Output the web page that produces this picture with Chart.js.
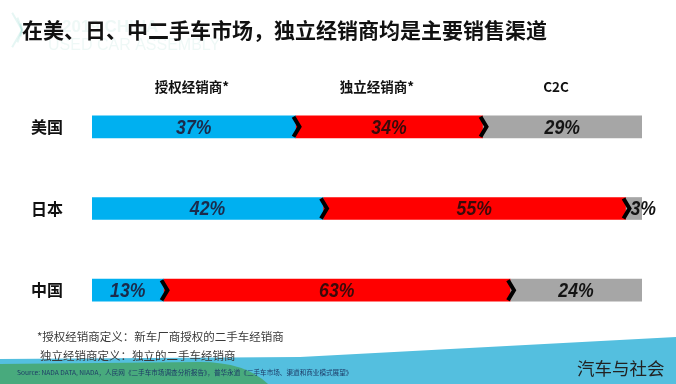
<!DOCTYPE html>
<html>
<head>
<meta charset="utf-8">
<script src="https://cdn.jsdelivr.net/npm/chart.js@4/dist/chart.umd.min.js"></script>
<style>
  html, body { margin: 0; padding: 0; background: #ffffff; }
  #wrap { position: relative; width: 676px; height: 384px; overflow: hidden; }
  canvas { position: absolute; left: 0; top: 0; }
  .txt { position: absolute; white-space: nowrap; font-family: "Noto Sans CJK SC", "Noto Sans", sans-serif; line-height: 1; }
  #title { left: 22px; top: 19px; font-size: 21px; font-weight: 700; color: #111; }
  #fn1 { left: 37px; top: 331px; font-size: 11.5px; color: #3a3a3a; }
  #fn2 { left: 40px; top: 350px; font-size: 11.5px; color: #3a3a3a; }
  #src { left: 17px; top: 369px; font-size: 6.6px; color: #1d3a66; }
  #brand { left: 577px; top: 359px; font-size: 17.5px; color: #222; font-weight: 400; }
</style>
</head>
<body>
<div id="wrap">
  <canvas id="c" width="676" height="384"></canvas>
  <div class="txt" id="title">在美、日、中二手车市场，独立经销商均是主要销售渠道</div>
  <div class="txt" id="fn1">*授权经销商定义：新车厂商授权的二手车经销商</div>
  <div class="txt" id="fn2">独立经销商定义：独立的二手车经销商</div>
  <div class="txt" id="src">Source: NADA DATA, NIADA，人民网《二手车市场调查分析报告》，普华永道《二手车市场、渠道和商业模式展望》</div>
  <div class="txt" id="brand">汽车与社会</div>
</div>
<script>
const countries = ['美国', '日本', '中国'];
const seriesNames = ['授权经销商*', '独立经销商*', 'C2C'];
const authorized = [37, 42, 13];
const independent = [34, 55, 63];
const c2c = [29, 3, 24];

const barColors = ['#00b0f0', '#ff0000', '#a6a6a6'];
const labelColors = ['#1b2b4b', '#3a0a0a', '#141414'];
const headerX = [192, 377, 556];

const decor = {
  id: 'decor',
  beforeDraw(chart) {
    const ctx = chart.ctx;
    ctx.save();
    ctx.fillStyle = '#ffffff';
    ctx.fillRect(0, 0, chart.width, chart.height);
    // faint watermark
    ctx.globalAlpha = 0.13;
    ctx.strokeStyle = '#3fb8a8';
    ctx.lineWidth = 2;
    for (let i = 0; i < 7; i++) {
      const a = -0.9 + i * 0.3;
      ctx.beginPath();
      ctx.moveTo(22, 30);
      ctx.lineTo(22 + Math.cos(a) * 26 - 26, 30 + Math.sin(a) * 22);
      ctx.stroke();
    }
    ctx.fillStyle = '#7cc9b8';
    ctx.font = '700 17px "Liberation Sans", sans-serif';
    ctx.textBaseline = 'middle';
    ctx.fillText('2019 CHINA', 62, 27);
    ctx.font = '400 16px "Liberation Sans", sans-serif';
    ctx.fillText('USED CAR ASSEMBLY', 48, 46);
    ctx.globalAlpha = 1;
    // bottom bands
    ctx.fillStyle = '#54bfdf';
    ctx.beginPath();
    ctx.moveTo(0, 359);
    ctx.lineTo(300, 357);
    ctx.lineTo(676, 337);
    ctx.lineTo(676, 384);
    ctx.lineTo(0, 384);
    ctx.closePath();
    ctx.fill();
    ctx.fillStyle = '#48aa7d';
    ctx.beginPath();
    ctx.moveTo(0, 364);
    ctx.lineTo(200, 362);
    ctx.quadraticCurveTo(245, 362, 268, 384);
    ctx.lineTo(0, 384);
    ctx.closePath();
    ctx.fill();
    ctx.restore();
  },
  afterDatasetsDraw(chart) {
    const ctx = chart.ctx;
    const yScale = chart.scales.y;
    ctx.save();
    // chevrons at segment boundaries
    ctx.strokeStyle = '#000000';
    ctx.lineWidth = 4;
    ctx.lineJoin = 'miter';
    for (let d = 0; d < 2; d++) {
      const meta = chart.getDatasetMeta(d);
      meta.data.forEach(el => {
        const b = el.x;
        const top = el.y - el.height / 2;
        const bot = el.y + el.height / 2;
        ctx.beginPath();
        ctx.moveTo(b - 2, top + 1);
        ctx.lineTo(b + 4, el.y);
        ctx.lineTo(b - 2, bot - 1);
        ctx.stroke();
      });
    }
    // value labels (condensed bold italic)
    ctx.textBaseline = 'middle';
    ctx.font = 'italic 700 21px "Liberation Sans Narrow", "Liberation Sans", sans-serif';
    const sx = 0.84;
    chart.data.datasets.forEach((ds, d) => {
      const meta = chart.getDatasetMeta(d);
      meta.data.forEach((el, i) => {
        const txt = ds.data[i] + '%';
        const w = ctx.measureText(txt).width * sx;
        const segW = Math.abs(el.x - el.base);
        let left;
        if (w + 10 > segW) {
          left = el.base + 5;
        } else {
          left = (el.x + el.base) / 2 - w / 2;
        }
        ctx.save();
        ctx.translate(left, el.y + 1);
        ctx.scale(sx, 1);
        ctx.textAlign = 'left';
        ctx.fillStyle = labelColors[d];
        ctx.fillText(txt, 0, 0);
        ctx.restore();
      });
    });
    // category labels
    ctx.textAlign = 'center';
    ctx.fillStyle = '#111111';
    ctx.font = '700 16px "Noto Sans CJK SC", sans-serif';
    countries.forEach((c, i) => {
      ctx.fillText(c, 47, yScale.getPixelForValue(i));
    });
    // column headers
    ctx.font = '700 13.5px "Noto Sans CJK SC", sans-serif';
    seriesNames.forEach((n, i) => {
      ctx.fillText(n, headerX[i], 87);
    });
    ctx.restore();
  }
};

new Chart(document.getElementById('c'), {
  type: 'bar',
  data: {
    labels: countries,
    datasets: [
      { label: seriesNames[0], data: authorized, backgroundColor: barColors[0] },
      { label: seriesNames[1], data: independent, backgroundColor: barColors[1] },
      { label: seriesNames[2], data: c2c, backgroundColor: barColors[2] }
    ]
  },
  options: {
    indexAxis: 'y',
    responsive: false,
    animation: false,
    devicePixelRatio: 1,
    layout: { padding: { left: 92, right: 34, top: 86, bottom: 53 } },
    datasets: { bar: { barThickness: 22, borderWidth: 0 } },
    scales: {
      x: { stacked: true, min: 0, max: 100, display: false },
      y: { stacked: true, display: false }
    },
    plugins: { legend: { display: false }, tooltip: { enabled: false }, title: { display: false } }
  },
  plugins: [decor]
});
</script>
</body>
</html>
